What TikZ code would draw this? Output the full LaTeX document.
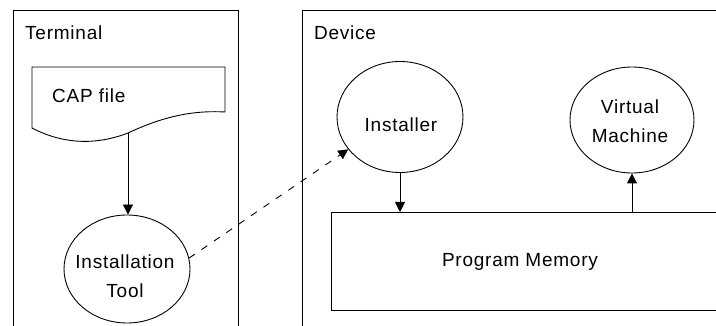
\documentclass[tikz,border=0pt]{standalone}
\usepackage{fontspec}
\setmainfont[LetterSpace=4]{Liberation Sans}
\usetikzlibrary{shapes.geometric,arrows.meta}
\tikzset{
  lbl/.style={font=\fontsize{19}{29}\selectfont, inner sep=0pt, align=center},
  frame/.style={draw, line width=0.9pt, rectangle, inner sep=0pt},
  bubble/.style={draw, line width=0.9pt, ellipse, inner sep=0pt},
  flow/.style={line width=0.9pt, -{Triangle[length=10pt,width=10pt]}},
  dflow/.style={flow, dash pattern=on 7pt off 8pt}
}
\begin{document}
\begin{tikzpicture}[x=1pt,y=-1pt]
\useasboundingbox (0,0) rectangle (716,326);
\fill[white] (0,0) rectangle (716,326);
\clip (0,0) rectangle (716,326);
% outer frames
\node[frame, minimum width=225pt, minimum height=340pt, anchor=north west] (term) at (13,10) {};
\node[frame, minimum width=430pt, minimum height=340pt, anchor=north west] (dev) at (302,10) {};
\node[lbl, anchor=west] (termlbl) at (25,33) {Terminal};
\node[lbl, anchor=west] (devlbl) at (314,33) {Device};
% CAP file document shape
\draw[line width=0.9pt] (32,67) -- (225,67) -- (225,112)
  .. controls (190,110) and (160,118) .. (128,133) coordinate (capbot)
  .. controls (105,142) and (70,148) .. (32,128) -- cycle;
\node[lbl, anchor=west] (cap) at (52,96) {CAP file};
% bubbles
\node[bubble, minimum width=126pt, minimum height=108pt] (itool) at (127,269) {};
\node[lbl] (itooltxt) at (125,276) {Installation\\Tool};
\node[bubble, minimum width=126pt, minimum height=111pt] (inst) at (400,117) {};
\node[lbl] (insttxt) at (401,124.5) {Installer};
\node[bubble, minimum width=124pt, minimum height=106pt] (vm) at (632,120) {};
\node[lbl] (vmtxt) at (630,121.5) {Virtual\\Machine};
% program memory
\node[frame, minimum width=400pt, minimum height=98pt, anchor=north west] (pm) at (331,212) {};
\node[lbl] (pmlbl) at (520,262) {Program Memory};
% connectors
\draw[flow] (capbot) -- (capbot |- itool.north);
\draw[flow] (inst.south) -- (inst.south |- pm.north);
\draw[flow] (vm.south |- pm.north) -- (vm.south);
\draw[dflow] (itool.10) -- (inst.212);
\end{tikzpicture}
\end{document}
